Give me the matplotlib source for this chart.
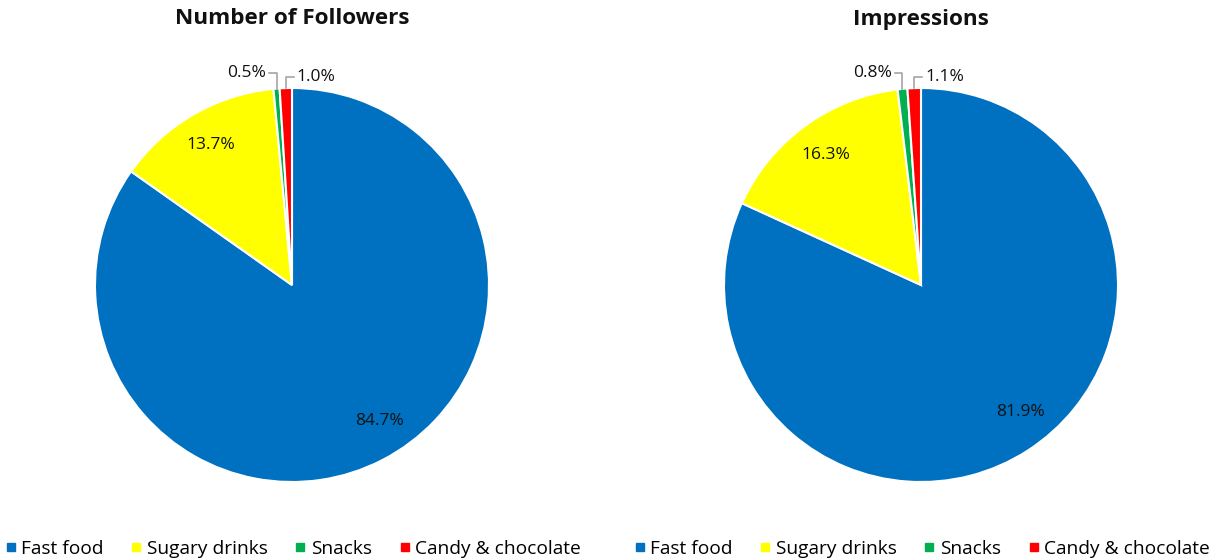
import numpy as np
import matplotlib
matplotlib.use("Agg")
import matplotlib.pyplot as plt
from matplotlib.lines import Line2D

plt.rcParams["font.family"] = ["Open Sans", "DejaVu Sans"]

# === Data ===
categories = ["Fast food", "Sugary drinks", "Snacks", "Candy & chocolate"]
followers = [84.7, 13.7, 0.5, 1.0]
impressions = [81.9, 16.3, 0.8, 1.1]
titles = ["Number of Followers", "Impressions"]
colors = ["#0070C0", "#FFFF00", "#00B050", "#FF0000"]

W, H = 1224, 558
fig = plt.figure(figsize=(W / 100, H / 100), dpi=100)

R = 197
centers = [(292, 285), (921, 285)]
# nudge (degrees) for inside labels so the big slice label sits like best-fit
inside_shift = [5.5, 0.0]


def mid_angle(vals, i):
    # clockwise from 12 o'clock, returns radians in math convention
    total = sum(vals)
    frac = (sum(vals[:i]) + vals[i] / 2) / total
    return np.deg2rad(90 - frac * 360)


def draw_pie(cx, cy, vals, title):
    ax = fig.add_axes([(cx - R) / W, (H - cy - R) / H, 2 * R / W, 2 * R / H])
    ax.pie(vals, colors=colors, startangle=90, counterclock=False,
           wedgeprops=dict(edgecolor="white", linewidth=1.5))
    ax.set_xlim(-1, 1)
    ax.set_ylim(-1, 1)
    ax.set_aspect("equal")
    ax.axis("off")

    # big slices: labels inside
    for i in (0, 1):
        a = mid_angle(vals, i) + np.deg2rad(inside_shift[i])
        ax.text(0.82 * np.cos(a), 0.82 * np.sin(a), f"{vals[i]:.1f}%",
                ha="center", va="center", fontsize=12.5, color="#111111")

    # small slices: labels above with leader lines
    for i, side in ((2, -1), (3, 1)):
        a = mid_angle(vals, i)
        x0 = np.cos(a)
        y0 = np.sin(a)
        ytop = 1.075 if side < 0 else 1.055
        xend = x0 + side * 0.04
        ax.plot([x0, x0, xend], [y0, ytop, ytop], color="#A6A6A6", lw=1.2,
                clip_on=False)
        ax.text(xend + side * 0.015, ytop, f"{vals[i]:.1f}%",
                ha="left" if side > 0 else "right", va="center",
                fontsize=12.5, color="#111111")

    fig.text(cx / W, 1 - 19 / H, title, ha="center", va="center",
             fontsize=16.2, fontweight="bold", color="#111111")

    handles = [Line2D([], [], marker="s", linestyle="none", markersize=6,
                      markerfacecolor=c, markeredgecolor=c) for c in colors]
    fig.legend(handles, categories, loc="center", ncol=4, frameon=False,
               bbox_to_anchor=(cx / W, 1 - 549 / H), fontsize=13.8,
               handletextpad=0.15, columnspacing=1.3, handlelength=0.8,
               borderpad=0, borderaxespad=0)


for (cx, cy), vals, title in zip(centers, [followers, impressions], titles):
    draw_pie(cx, cy, vals, title)

fig.savefig("out.png", dpi=100, facecolor="white")
